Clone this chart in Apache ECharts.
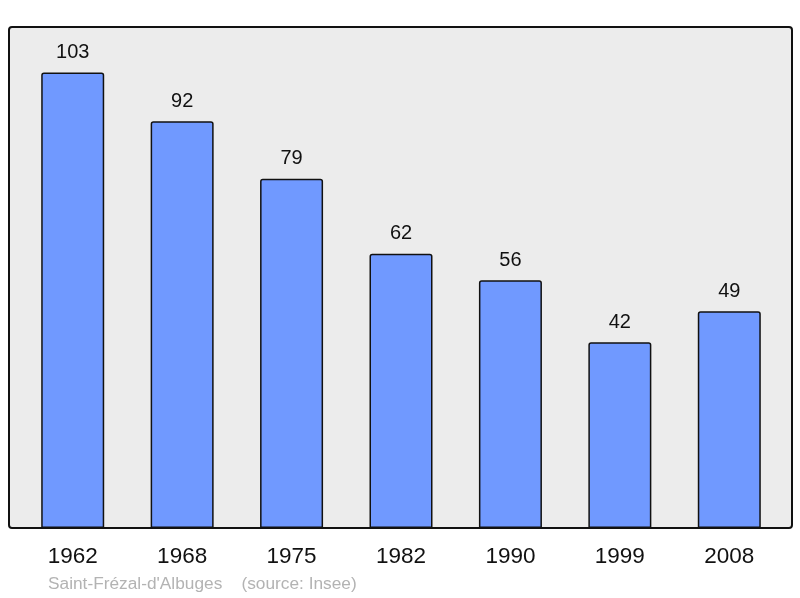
<!DOCTYPE html>
<html>
<head>
<meta charset="utf-8" />
<title>Saint-Frézal-d'Albuges</title>
<script src="https://cdn.jsdelivr.net/npm/echarts@6/dist/echarts.min.js"></script>
<style>
  html, body { margin: 0; padding: 0; background: #fff; }
  #main { width: 800px; height: 598px; }
</style>
</head>
<body>
<div id="main"></div>
<script>
var years = ['1962', '1968', '1975', '1982', '1990', '1999', '2008'];
var population = [103, 92, 79, 62, 56, 42, 49];
var commune = "Saint-Frézal-d'Albuges";
var source = '(source: Insee)';

var chart = echarts.init(document.getElementById('main'));

chart.setOption({
  animation: false,
  textStyle: { fontFamily: 'Liberation Sans, Arial, sans-serif' },
  grid: { left: 18, right: 16, top: 27, bottom: 70, containLabel: false },
  graphic: [
    {
      type: 'rect',
      z: -10,
      shape: { x: 9, y: 27, width: 783, height: 501, r: 3 },
      style: { fill: '#ececec', stroke: '#111', lineWidth: 2 }
    },
    {
      type: 'text',
      left: 48, top: 576,
      style: {
        text: commune + '    ' + source,
        fill: '#b3b3b3',
        font: '17.3px Liberation Sans, Arial, sans-serif'
      }
    }
  ],
  xAxis: {
    type: 'category',
    data: years,
    axisLine: { show: false },
    axisTick: { show: false },
    axisLabel: { color: '#111', fontSize: 22.5, margin: 17 }
  },
  yAxis: {
    type: 'value',
    min: 0,
    max: 113.3,
    show: false,
    splitLine: { show: false }
  },
  series: [{
    type: 'bar',
    data: population,
    barWidth: 63,
    itemStyle: {
      color: '#7099ff',
      borderColor: '#111',
      borderWidth: 1.5,
      borderRadius: [2, 2, 0, 0]
    },
    label: {
      show: true,
      position: 'top',
      distance: 10,
      color: '#111',
      fontSize: 20
    }
  }]
});
</script>
</body>
</html>
